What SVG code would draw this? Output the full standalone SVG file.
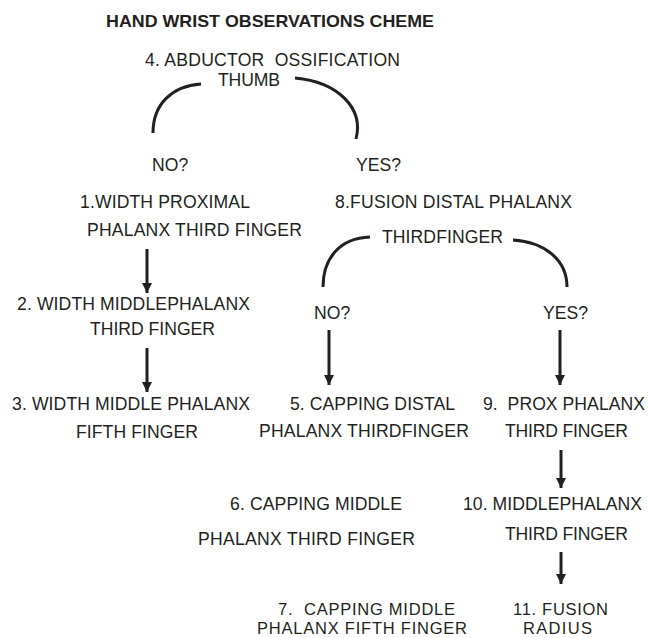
<svg xmlns="http://www.w3.org/2000/svg" width="649" height="638" viewBox="0 0 649 638">
<defs>
<style>
text{font-family:"Liberation Sans",Arial,sans-serif;font-size:17.6px;fill:#231f20}
.t{font-weight:bold;font-size:17px}
.s{font-size:16.5px}
.c{fill:none;stroke:#231f20;stroke-width:3;stroke-linecap:butt}
.a{fill:none;stroke:#231f20;stroke-width:3}
</style>
<marker id="ah" markerUnits="userSpaceOnUse" markerWidth="12" markerHeight="12" viewBox="0 0 12 12" refX="10" refY="6" orient="auto">
<path d="M0,1 L10,6 L0,11 Z" fill="#231f20"/>
</marker>
</defs>
<rect width="649" height="638" fill="#fff"/>
<text class="t" x="106" y="27" textLength="328" lengthAdjust="spacingAndGlyphs">HAND WRIST OBSERVATIONS CHEME</text>

<g id="n4">
<text x="145" y="66" textLength="255" xml:space="preserve">4. ABDUCTOR  OSSIFICATION</text>
<text x="218" y="86" textLength="62">THUMB</text>
</g>
<g id="no1"><text x="152" y="171">NO?</text></g>
<g id="yes1"><text x="356" y="171">YES?</text></g>
<g id="n1">
<text x="80" y="208" textLength="170" xml:space="preserve">1.WIDTH PROXIMAL</text>
<text x="87" y="236" textLength="215">PHALANX THIRD FINGER</text>
</g>
<g id="n2">
<text x="17" y="310" textLength="233">2. WIDTH MIDDLEPHALANX</text>
<text x="90" y="335" textLength="125">THIRD FINGER</text>
</g>
<g id="n3">
<text x="12" y="410" textLength="238">3. WIDTH MIDDLE PHALANX</text>
<text x="76" y="438" textLength="122">FIFTH FINGER</text>
</g>
<g id="n8">
<text x="335" y="208" textLength="237">8.FUSION DISTAL PHALANX</text>
<text x="382" y="243" textLength="121">THIRDFINGER</text>
</g>
<g id="no2"><text x="314" y="319">NO?</text></g>
<g id="yes2"><text x="543" y="319">YES?</text></g>
<g id="n5">
<text x="290" y="410" textLength="165">5. CAPPING DISTAL</text>
<text x="259" y="437" textLength="210">PHALANX THIRDFINGER</text>
</g>
<g id="n9">
<text x="483" y="410" textLength="162" xml:space="preserve">9.  PROX PHALANX</text>
<text x="505" y="437" textLength="123">THIRD FINGER</text>
</g>
<g id="n6">
<text x="230" y="510" textLength="172">6. CAPPING MIDDLE</text>
<text x="198" y="545" textLength="217">PHALANX THIRD FINGER</text>
</g>
<g id="n10">
<text x="463" y="510" textLength="179">10. MIDDLEPHALANX</text>
<text x="505" y="540" textLength="123">THIRD FINGER</text>
</g>
<g id="n7">
<text class="s" x="278" y="615" textLength="177" xml:space="preserve">7.  CAPPING MIDDLE</text>
<text class="s" x="257" y="634" textLength="210">PHALANX FIFTH FINGER</text>
</g>
<g id="n11">
<text class="s" x="513" y="615" textLength="95">11. FUSION</text>
<text class="s" x="523" y="634" textLength="69">RADIUS</text>
</g>

<g id="connectors">
<path class="c" d="M201,84 C172,86 153,104 153,133"/>
<path class="c" d="M295,78 C338,82 364,108 356,139"/>
<path class="c" d="M370,237 C340,238 323,258 323,287"/>
<path class="c" d="M513,240 C545,242 567,260 567,287"/>
<line class="a" x1="147" y1="249" x2="147" y2="293" marker-end="url(#ah)"/>
<line class="a" x1="147" y1="348" x2="147" y2="392" marker-end="url(#ah)"/>
<line class="a" x1="329" y1="330" x2="329" y2="385" marker-end="url(#ah)"/>
<line class="a" x1="560" y1="330" x2="560" y2="385" marker-end="url(#ah)"/>
<line class="a" x1="561" y1="450" x2="561" y2="488" marker-end="url(#ah)"/>
<line class="a" x1="561" y1="552" x2="561" y2="584" marker-end="url(#ah)"/>
</g>
</svg>
